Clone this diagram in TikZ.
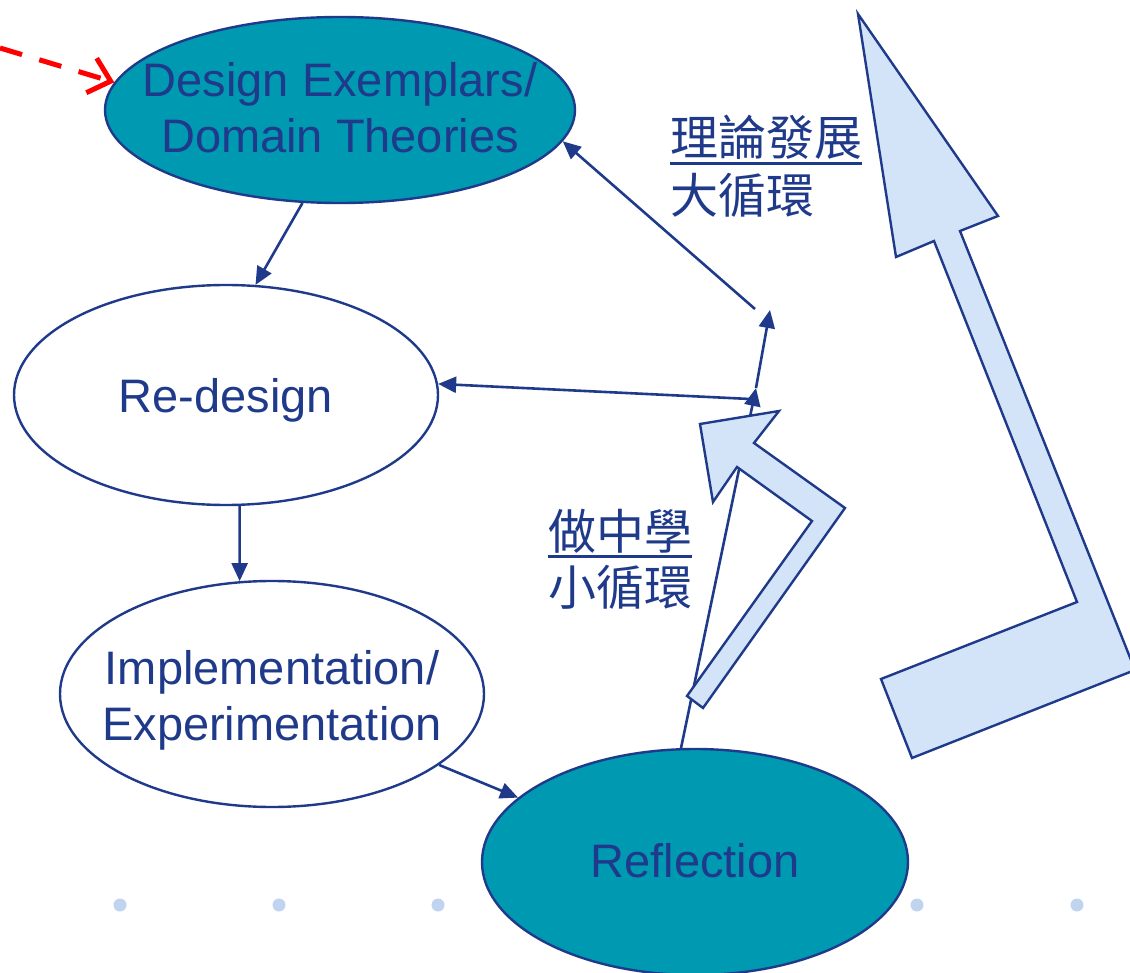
\documentclass[tikz,border=0pt]{standalone}
\usepackage{fontspec}
\setmainfont{Liberation Sans}
\newfontfamily\cjk{Noto Sans CJK TC}
\usetikzlibrary{shapes.geometric,arrows.meta}
\definecolor{navy}{RGB}{31,58,138}
\definecolor{tealfill}{RGB}{0,153,178}
\definecolor{pale}{RGB}{212,228,248}
\definecolor{dotc}{RGB}{192,212,240}
\newcommand\myul[1]{\setbox0=\hbox{#1}\rlap{\color{navy}\vrule width\wd0 height -6pt depth 9pt}\box0}
\begin{document}
\begin{tikzpicture}[x=1pt,y=-1pt,
  ell/.style={ellipse, draw=navy, line width=2.4pt, inner sep=0pt},
  lbl/.style={text=navy, font=\fontsize{47}{56}\selectfont, align=center, inner sep=0pt},
  cj/.style={text=navy, font=\cjk\fontsize{48}{57}\selectfont, anchor=base west, inner sep=0pt},
  conn/.style={draw=navy, line width=2.6pt, -{Triangle[length=18pt,width=16pt]}},
  bigarrow/.style={draw=navy, fill=pale, line width=2.4pt, line join=miter},
]
\useasboundingbox (0,0) rectangle (1130,973);

% dots
\foreach \x [count=\i] in {120,279,438,598,758,917,1077}
  \node[circle, fill=dotc, minimum size=13pt, inner sep=0pt] (dot\i) at (\x,905) {};

% ellipses
\node[ell, fill=tealfill, minimum width=470pt, minimum height=186pt] (des) at (340,110) {};
\node[lbl] (desT) at (340,108) {Design Exemplars/\\Domain Theories};
\node[ell, fill=white, minimum width=424pt, minimum height=220pt] (red) at (226,395) {};
\node[lbl] (redT) at (226,400) {Re-design};
\node[ell, fill=white, minimum width=424pt, minimum height=226pt] (imp) at (272,694) {};
\node[lbl] (impT) at (272,700) {Implementation/\\Experimentation};
\node[ell, fill=tealfill, minimum width=426pt, minimum height=226pt] (ref) at (695,862) {};
\node[lbl] (refT) at (695,861) {Reflection};

% CJK labels
\node[cj] (big1) at (670,156) {\myul{理論發展}};
\node[cj] (big2) at (670,214) {大循環};
\node[cj] (sm1) at (548,549) {\myul{做中學}};
\node[cj] (sm2) at (548,605) {小循環};

% connectors
\coordinate (j1) at (756,388);
\coordinate (j2) at (750,399);
\coordinate (j3) at (770,310);
\coordinate (j4) at (755,309);
\draw[conn] (des.-112) -- (red.75);
\draw[conn] (red.-83) -- (imp.106);
\draw[conn] (imp.-23) -- (ref.160);
\draw[conn] (ref.97) -- (j1);
\draw[conn] (j2) -- (red.3);
\draw[conn] (j1) -- (j3);
\draw[conn] (j4) -- (des.-8.5);

% big hollow arrows
\draw[bigarrow] (700,424) -- (779,411) -- (754,443) -- (845,508) -- (703,708)
  -- (687,696) -- (812,521) -- (737,467) -- (713,502) -- cycle;
\draw[bigarrow] (858,14) -- (998,216) -- (960,231) -- (1135,670) -- (912,758)
  -- (881,679) -- (1077,602) -- (934,241) -- (896,257) -- cycle;

% red dashed arrow
\coordinate (rs) at (0,48);
\draw[red, line width=5pt, dash pattern=on 23pt off 18pt,
  -{Straight Barb[length=20pt,width=36pt]}] (rs) -- (des.173);
\end{tikzpicture}
\end{document}
